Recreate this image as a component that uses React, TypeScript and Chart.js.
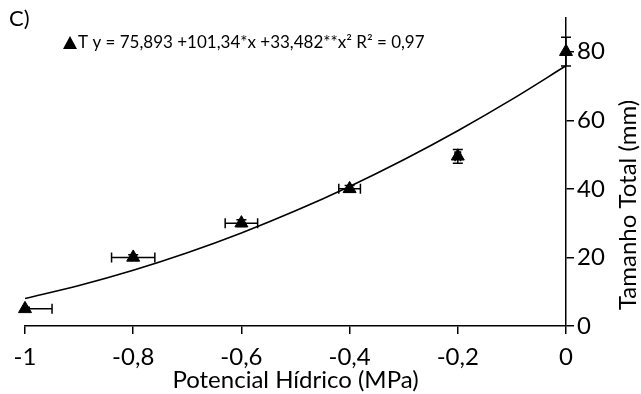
import React, { useEffect, useRef } from 'react';
import { Chart, registerables } from 'chart.js';

Chart.register(...registerables);

// Observed means
const xValues = [-1, -0.8, -0.6, -0.4, -0.2, 0];
const yValues = [5, 20, 30, 40, 49.5, 80];
// Error bar half-widths
const xErrors = [0.05, 0.04, 0.03, 0.02, 0.005, 0];
const yErrors = [0.5, 0.8, 1, 1, 2, 4.2];
// Fitted curve
const fitX = [-1, -0.9, -0.8, -0.7, -0.6, -0.5, -0.4, -0.3, -0.2, -0.1, 0];
const fitY = [8.03, 11.81, 16.25, 21.36, 27.14, 33.59, 40.71, 48.5, 56.96, 66.09, 75.89];
// Ticks
const xTicks = [-1, -0.8, -0.6, -0.4, -0.2, 0];
const yTicks = [0, 20, 40, 60, 80];
const legendText = 'T y = 75,893 +101,34*x +33,482**x² R² = 0,97';
const panelLabel = 'C)';
const xTitle = 'Potencial Hídrico (MPa)';
const yTitle = 'Tamanho Total (mm)';

const FONT = "Lato, sans-serif";
const fmt = (v: number) => String(Math.round(v * 10) / 10).replace('.', ',');

export default function App() {
  const ref = useRef<HTMLCanvasElement | null>(null);
  useEffect(() => {
    if (!ref.current) return;
    const errorBars = {
      id: 'errorBars',
      afterDatasetsDraw(chart: any) {
        const { ctx, chartArea, scales } = chart;
        const xs = scales.x, ys = scales.y;
        ctx.save();
        ctx.beginPath();
        ctx.rect(chartArea.left, 0, chart.width - chartArea.left, chart.height);
        ctx.clip();
        ctx.strokeStyle = '#000';
        ctx.lineWidth = 1.5;
        const cap = 5;
        xValues.forEach((xv, i) => {
          const px = xs.getPixelForValue(xv);
          const py = ys.getPixelForValue(yValues[i]);
          if (xErrors[i] > 0) {
            const l = xs.getPixelForValue(xv - xErrors[i]);
            const r = xs.getPixelForValue(xv + xErrors[i]);
            ctx.beginPath();
            ctx.moveTo(l, py); ctx.lineTo(r, py);
            ctx.moveTo(l, py - cap); ctx.lineTo(l, py + cap);
            ctx.moveTo(r, py - cap); ctx.lineTo(r, py + cap);
            ctx.stroke();
          }
          if (yErrors[i] > 0) {
            const t = ys.getPixelForValue(yValues[i] + yErrors[i]);
            const b = ys.getPixelForValue(yValues[i] - yErrors[i]);
            ctx.beginPath();
            ctx.moveTo(px, t); ctx.lineTo(px, b);
            ctx.moveTo(px - cap, t); ctx.lineTo(px + cap, t);
            ctx.moveTo(px - cap, b); ctx.lineTo(px + cap, b);
            ctx.stroke();
          }
        });
        ctx.restore();
      },
    };
    const decorations = {
      id: 'decorations',
      afterDraw(chart: any) {
        const { ctx, chartArea } = chart;
        ctx.save();
        ctx.fillStyle = '#000';
        // panel label
        ctx.font = `22px ${FONT}`;
        ctx.textBaseline = 'middle';
        ctx.textAlign = 'left';
        ctx.fillText(panelLabel, 9, 19);
        // legend
        const lx = 70, ly = 43;
        ctx.beginPath();
        ctx.moveTo(lx, ly - 7);
        ctx.lineTo(lx + 7, ly + 6);
        ctx.lineTo(lx - 7, ly + 6);
        ctx.closePath();
        ctx.fill();
        ctx.font = `17px ${FONT}`;
        ctx.fillText(legendText, 78, 43);
        // axis titles
        ctx.font = `24px ${FONT}`;
        ctx.textAlign = 'center';
        ctx.fillText(xTitle, (chartArea.left + chartArea.right) / 2, 380);
        ctx.translate(628, 205);
        ctx.rotate(-Math.PI / 2);
        ctx.fillText(yTitle, 0, 0);
        ctx.restore();
      },
    };
    const chart = new Chart(ref.current, {
      type: 'scatter',
      data: {
        datasets: [
          {
            type: 'line',
            label: 'fit',
            data: fitX.map((x, i) => ({ x, y: fitY[i] })),
            borderColor: '#000',
            borderWidth: 1.6,
            pointRadius: 0,
            cubicInterpolationMode: 'monotone',
            fill: false,
          } as any,
          {
            label: 'T',
            data: xValues.map((x, i) => ({ x, y: yValues[i] })),
            pointStyle: 'triangle',
            pointRadius: 7.5,
            backgroundColor: '#000',
            borderColor: '#000',
            clip: false,
          } as any,
        ],
      },
      options: {
        responsive: false,
        animation: false,
        layout: { padding: { left: 25, top: 15, right: 0, bottom: 0 } },
        plugins: { legend: { display: false }, tooltip: { enabled: false } },
        scales: {
          x: {
            type: 'linear',
            min: -1,
            max: 0,
            afterBuildTicks: (s: any) => { s.ticks = xTicks.map((v) => ({ value: v })); },
            afterFit: (s: any) => { s.height = 68; },
            ticks: { color: '#000', font: { family: FONT, size: 24 }, padding: 9, callback: (v: any) => fmt(Number(v)), maxRotation: 0 },
            grid: { display: true, drawOnChartArea: false, drawTicks: true, tickLength: 8, color: '#000', lineWidth: 1.5 },
            border: { display: true, color: '#000', width: 1.5 },
          },
          y: {
            type: 'linear',
            position: 'right',
            min: 0,
            max: 90,
            afterBuildTicks: (s: any) => { s.ticks = yTicks.map((v) => ({ value: v })); },
            afterFit: (s: any) => { s.width = 75; },
            ticks: { color: '#000', font: { family: FONT, size: 24 }, padding: 3, callback: (v: any) => fmt(Number(v)) },
            grid: { display: true, drawOnChartArea: false, drawTicks: true, tickLength: 8, color: '#000', lineWidth: 1.5 },
            border: { display: true, color: '#000', width: 1.5 },
          },
        },
      } as any,
      plugins: [errorBars, decorations],
    });
    return () => chart.destroy();
  }, []);
  return (
    <div style={{ position: 'fixed', left: 0, top: 0, width: 641, height: 394, background: '#fff' }}>
      <canvas ref={ref} width={641} height={394} style={{ width: 641, height: 394 }} />
    </div>
  );
}
